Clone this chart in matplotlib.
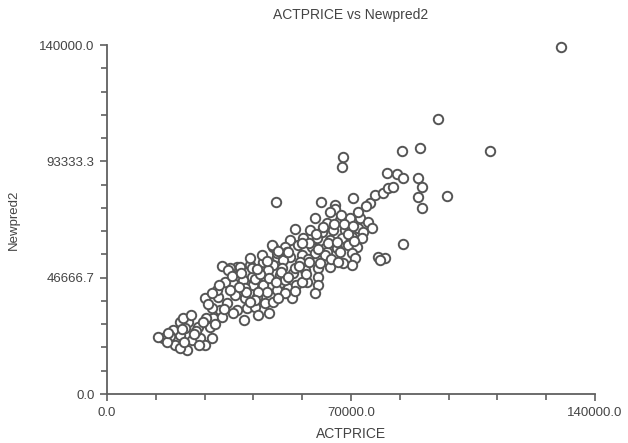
import numpy as np
import matplotlib
matplotlib.use('Agg')
import matplotlib.pyplot as plt
from matplotlib.ticker import MultipleLocator, FixedLocator, FormatStrFormatter

# values (thousands)
actprice_k = [
    130.3, 95.0, 109.9, 97.5, 89.8, 84.6, 67.7, 67.4, 80.3, 83.2, 84.9, 89.2, 90.4, 89.2, 90.4,
    48.5, 61.4, 65.4, 70.6, 75.5, 76.9, 79.2, 80.6, 82.1, 84.9, 77.7, 79.8, 78.3, 74.3,
    59.7, 63.1, 66.8, 69.7, 72.6, 74.9, 76.0, 53.9, 58.2, 61.7, 64.8, 68.3, 72.0, 73.4,
    52.5, 56.2, 60.2, 64.0, 67.4, 70.3, 73.2, 47.6, 51.1, 54.8, 58.8, 62.5, 66.0, 69.1, 71.7,
    37.3, 41.0, 44.8, 48.8, 52.5, 55.9, 59.7, 63.1, 66.8, 70.3, 71.2, 70.3, 67.7,
    37.3, 41.6, 45.3, 49.6, 53.4, 56.8, 60.5, 64.0, 57.4, 60.5, 60.5, 53.1, 59.7,
    46.5, 39.3, 51.9, 49.6, 47.3, 53.9, 57.7, 62.5, 64.3, 66.3, 47.3, 65.4, 64.0,
    16.1, 14.6, 19.5, 23.0, 24.4, 20.9, 20.9, 23.2, 26.1, 29.6, 30.1, 26.7, 18.9, 22.4,
    28.1, 31.8, 32.4, 30.4, 33.0, 34.4, 35.3, 38.2, 41.6, 44.8, 47.6, 50.5,
    36.1, 39.0, 41.9, 44.8, 33.9, 31.6, 36.7, 39.6, 43.0, 45.9, 48.8, 51.1,
    37.3, 40.2, 42.5, 45.3, 47.6, 36.1, 43.3, 48.8, 51.6,
    21.8, 30.1, 28.4, 25.5, 18.1, 20.9, 17.2, 28.1, 33.0, 34.7, 32.1, 30.1,
    39.6, 43.3, 46.2, 50.2, 41.0, 44.5, 55.4, 35.3, 42.5, 51.1, 54.2,
    17.5, 22.0, 25.0, 27.5, 24.0, 31.0, 33.5, 29.0, 26.5, 21.5,
    36.0, 38.5, 40.0, 42.5, 44.0, 46.5, 48.5, 50.0, 52.0, 46.0, 43.0, 38.0, 41.0, 49.0,
    54.0, 56.0, 55.0, 58.0, 61.0, 57.0,
    58.0, 60.5, 63.5, 66.0, 69.0, 71.0, 62.0, 65.0, 68.0, 70.5, 72.0, 67.0, 60.0, 56.0,
    52.0, 49.0,
]
newpred2_k = [
    139.2, 110.3, 97.5, 79.4, 98.7, 97.5, 95.1, 91.0, 88.6, 88.2, 86.6, 86.6, 83.0, 79.0, 74.6,
    77.0, 77.0, 75.8, 78.6, 76.6, 79.8, 80.6, 82.6, 83.0, 60.2, 55.0, 54.5, 53.7, 75.4,
    70.6, 68.6, 69.8, 70.6, 70.6, 69.0, 66.6, 66.2, 65.8, 65.0, 65.8, 65.8, 66.6, 65.0,
    61.8, 62.6, 62.6, 61.8, 62.6, 63.0, 62.6, 59.0, 59.0, 59.8, 59.0, 58.6, 58.6, 59.8, 59.0,
    50.9, 51.7, 51.7, 55.0, 55.0, 55.8, 56.6, 57.0, 57.0, 56.6, 54.5, 51.7, 52.5,
    46.5, 46.9, 46.9, 47.7, 48.5, 49.7, 50.5, 50.9, 44.9, 46.9, 43.7, 38.5, 40.5,
    32.5, 29.7, 42.5, 44.5, 43.7, 50.5, 54.1, 55.8, 54.1, 52.9, 59.8, 74.2, 73.0,
    22.5, 22.9, 19.7, 17.6, 21.7, 23.7, 28.9, 28.9, 26.9, 26.9, 22.5, 22.5, 25.7, 26.5,
    38.5, 38.9, 33.7, 30.5, 30.9, 36.5, 50.5, 50.9, 50.5, 52.9, 51.7, 53.7,
    44.5, 45.7, 43.7, 43.7, 44.9, 41.7, 39.7, 38.5, 38.9, 40.9, 41.7, 40.5,
    33.7, 34.5, 34.9, 36.5, 36.9, 32.5, 31.7, 56.6, 57.0,
    30.5, 34.5, 30.5, 25.3, 23.3, 18.5, 20.9, 19.7, 51.3, 49.7, 43.7, 40.5,
    42.5, 40.9, 49.7, 50.5, 54.5, 55.8, 52.9, 41.7, 37.7, 45.7, 43.7,
    24.5, 21.0, 24.0, 29.0, 31.5, 28.0, 34.0, 36.0, 19.5, 26.0,
    47.5, 48.5, 41.0, 46.0, 48.0, 46.5, 45.0, 49.0, 47.0, 53.5, 50.0, 43.0, 37.0, 38.5,
    41.5, 45.0, 51.5, 53.0, 52.5, 48.0,
    60.5, 58.0, 60.5, 61.0, 64.0, 61.5, 67.0, 68.0, 68.0, 67.5, 73.0, 72.0, 64.0, 60.5,
    57.0, 57.5,
]

x = np.array(actprice_k) * 1000
y = np.array(newpred2_k) * 1000

x_ticks = [0, 70000, 140000]
y_ticks = [0, 140000 / 3, 280000 / 3, 140000]

fig = plt.figure(figsize=(6.28, 4.43), dpi=100)
ax = fig.add_axes([0.1704, 0.1106, 0.777, 0.7878])

ax.plot(x, y, 'o', ms=6.8, mfc='white', mec='#555555', mew=1.4, clip_on=False)

ax.set_xlim(0, 140000)
ax.set_ylim(0, 140000)

for s in ['top', 'right']:
    ax.spines[s].set_visible(False)
for s in ['left', 'bottom']:
    ax.spines[s].set_color('#606060')
    ax.spines[s].set_linewidth(1.3)

ax.xaxis.set_major_locator(FixedLocator(x_ticks))
ax.xaxis.set_minor_locator(MultipleLocator(14000))
ax.yaxis.set_major_locator(FixedLocator(y_ticks))
ax.yaxis.set_minor_locator(MultipleLocator(140000 / 15))
ax.xaxis.set_major_formatter(FormatStrFormatter('%.1f'))
ax.yaxis.set_major_formatter(FormatStrFormatter('%.1f'))

ax.tick_params(which='both', direction='out', color='#606060', width=1.2)
ax.tick_params(which='major', length=5, labelsize=9.5, labelcolor='#444444', pad=4)
ax.tick_params(which='minor', length=4)

font = 'Liberation Sans'
for lab in ax.get_xticklabels() + ax.get_yticklabels():
    lab.set_fontname(font)

ax.set_title('ACTPRICE vs Newpred2', fontname=font, fontsize=10, color='#444444', pad=19)
ax.set_xlabel('ACTPRICE', fontname=font, fontsize=10, color='#444444', labelpad=6)
ax.set_ylabel('Newpred2', fontname=font, fontsize=9.5, color='#444444', labelpad=14)

plt.savefig('out.png', dpi=100)
